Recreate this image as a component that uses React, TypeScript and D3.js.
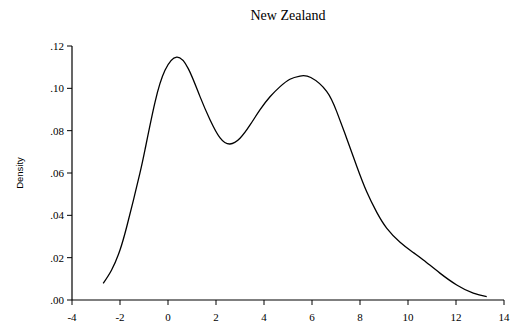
import React from "react";
import * as d3 from "d3";

const xs = [-2.70, -2.35, -2.0, -1.72, -1.44, -1.17, -0.96, -0.54, -0.125, 0.36, 0.85, 1.33, 1.75, 2.17, 2.58, 3.0, 3.42, 3.83, 4.25, 4.67, 5.08, 5.5, 5.95, 6.61, 7.03, 7.45, 7.86, 8.28, 8.7, 9.11, 9.67, 10.2, 10.64, 11.33, 12.03, 12.72, 13.28];
const densities = [0.0079, 0.0142, 0.0236, 0.0346, 0.0472, 0.0599, 0.0709, 0.0935, 0.1085, 0.1147, 0.1092, 0.0962, 0.0852, 0.0766, 0.0737, 0.0764, 0.0827, 0.0898, 0.096, 0.1008, 0.1043, 0.1058, 0.1051, 0.0986, 0.0890, 0.0762, 0.0633, 0.0511, 0.0414, 0.0340, 0.0273, 0.0226, 0.0189, 0.0127, 0.0071, 0.0032, 0.0016];
const xTicks = [-4, -2, 0, 2, 4, 6, 8, 10, 12, 14];
const yTicks = [0, 0.02, 0.04, 0.06, 0.08, 0.1, 0.12];
const title = "New Zealand";
const yLabel = "Density";

export default function App() {
  const W = 515, H = 329;
  const x = d3.scaleLinear().domain([-4, 14]).range([72, 504]);
  const y = d3.scaleLinear().domain([0, 0.12]).range([300, 46]);
  const pts = xs.map((v, i) => [v, densities[i]] as [number, number]);
  const line = d3.line<[number, number]>().x(d => x(d[0])).y(d => y(d[1])).curve(d3.curveNatural);
  const fmtY = (v: number) => "." + d3.format("02d")(Math.round(v * 100));
  return (
    <svg width={W} height={H} style={{ position: "absolute", left: 0, top: 0, background: "#fff" }}>
      <text x={288} y={20} textAnchor="middle" fontFamily="Liberation Serif" fontSize={14} fill="#000">{title}</text>
      <text transform={`translate(23,${(46 + 300) / 2}) rotate(-90)`} textAnchor="middle" fontFamily="Liberation Sans" fontSize={9.5} fill="#000">{yLabel}</text>
      <line x1={72} x2={72} y1={46} y2={300} stroke="#000" strokeWidth={1.2} />
      <line x1={72} x2={504} y1={300} y2={300} stroke="#000" strokeWidth={1.2} />
      {yTicks.map(t => (
        <g key={"y" + t}>
          <line x1={67} x2={72} y1={y(t)} y2={y(t)} stroke="#000" strokeWidth={1} />
          <text x={64} y={y(t)} dy="0.35em" textAnchor="end" fontFamily="Liberation Serif" fontSize={11} fill="#000">{fmtY(t)}</text>
        </g>
      ))}
      {xTicks.map(t => (
        <g key={"x" + t}>
          <line x1={x(t)} x2={x(t)} y1={300} y2={305} stroke="#000" strokeWidth={1} />
          <text x={x(t)} y={321} textAnchor="middle" fontFamily="Liberation Serif" fontSize={11} fill="#000">{t}</text>
        </g>
      ))}
      <path d={line(pts) || ""} fill="none" stroke="#000" strokeWidth={1.3} />
    </svg>
  );
}
